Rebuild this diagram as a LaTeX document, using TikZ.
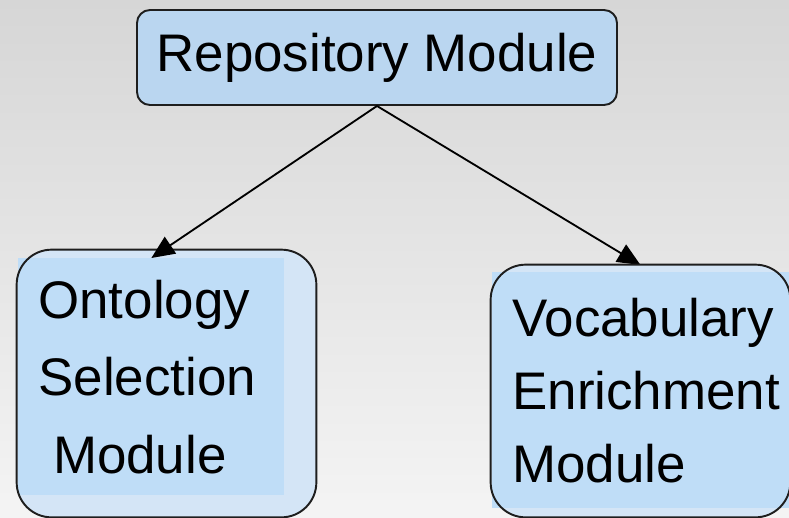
\documentclass[tikz,border=0pt]{standalone}
\usepackage{fontspec}
\setmainfont{Liberation Sans}
\usetikzlibrary{arrows.meta}

\definecolor{bgtop}{RGB}{214,214,214}
\definecolor{bgbottom}{RGB}{244,244,244}
\definecolor{repoblue}{RGB}{186,214,240}
\definecolor{outerblue}{RGB}{212,229,246}
\definecolor{innerblue}{RGB}{191,221,247}
\definecolor{boxline}{RGB}{30,30,30}

\tikzset{
    modline/.style={draw=boxline, line width=1.1pt},
    modbox/.style={fill=outerblue, inner sep=0pt, rounded corners=0.7cm},
    modtext/.style={fill=innerblue, align=left, anchor=north west,
        inner xsep=0.4cm, inner ysep=0pt},
    link/.style={line width=1.05pt, -{Triangle[length=0.46cm,width=0.4cm]}}
}

\begin{document}
\begin{tikzpicture}
    \clip (0,0) rectangle (15.78,-10.36);
    \shade[top color=bgtop, bottom color=bgbottom] (0,0) rectangle (15.78,-10.36);

    % top module
    \node[modline, fill=repoblue, rounded corners=0.26cm, inner sep=0pt,
        minimum width=9.6cm, minimum height=1.9cm,
        font=\fontsize{30.1pt}{36pt}\selectfont] (repo) at (7.54,-1.15) {Repository Module};

    % left module
    \node[modbox, minimum width=5.98cm, minimum height=5.34cm] (onto) at (3.33,-7.67) {};
    \node[modtext, text width=4.52cm, minimum height=4.74cm,
        font=\fontsize{30.1pt}{44.1pt}\selectfont] (ontotext) at (0.36,-5.16)
        {Ontology\\Selection\\\hspace*{0.278em}Module};
    \draw[modline, rounded corners=0.7cm] (onto.south west) rectangle (onto.north east);

    \draw[link] (repo.south) -- (ontotext.north);

    % right module
    \draw[link] (repo.south) -- (12.81,-5.3) coordinate (vocabtip);
    \node[modbox, minimum width=5.98cm, minimum height=5.04cm] (vocab) at (12.81,-7.82) {};
    \node[modtext, text width=5.4cm, minimum height=4.72cm,
        font=\fontsize{30.1pt}{41.5pt}\selectfont] (vocabtext) at (9.84,-5.44)
        {Vocabulary\\Enrichment\\Module};
    \draw[modline, rounded corners=0.7cm] (vocab.south west) rectangle (vocab.north east);
\end{tikzpicture}
\end{document}
